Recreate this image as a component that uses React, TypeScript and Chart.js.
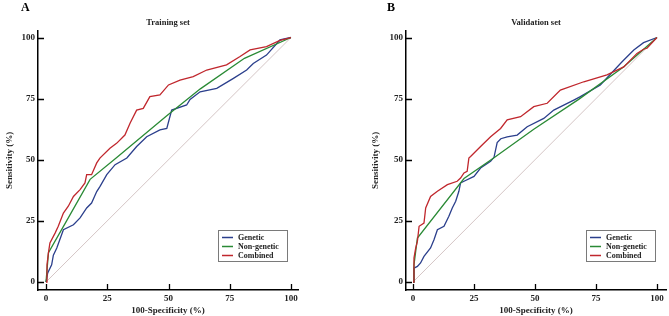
import React, { useEffect, useRef } from "react";
import { Chart, registerables } from "chart.js";

Chart.register(...registerables);

const TICKS = [0, 25, 50, 75, 100];
const SERIES_NAMES = ["Genetic", "Non-genetic", "Combined"];
const SERIES_COLORS = ["#2b3f8c", "#2a8a35", "#c0272d"];
const DIAG_X = [0, 100];
const DIAG_Y = [0, 100];

// Training set
const trainGeneticX = [0, 0.7, 2.3, 3, 4.4, 7.1, 11.2, 13.9, 16.6, 18.6, 20.7, 22, 24.8, 28.2, 33, 37, 41.1, 46.5, 49.3, 51.3, 57.4, 58.8, 62.9, 69.7, 76.5, 81.9, 84.6, 90, 95.5, 100];
const trainGeneticY = [0, 3.7, 7, 11, 13.9, 21.4, 23.4, 26.2, 30.3, 32.3, 37, 39, 43.9, 48, 50.7, 55.4, 59.4, 62.2, 62.8, 70.3, 72.4, 74.7, 77.8, 79.2, 83.3, 86.7, 89.4, 92.8, 99, 100];
const trainNonGenX = [0, 1, 8.4, 18, 29, 49.3, 63, 81, 100];
const trainNonGenY = [0, 12, 25, 42, 51, 68, 79, 91.5, 100];
const trainCombX = [0, 0.4, 1, 1.6, 3.7, 5, 7.1, 9.1, 11.2, 13.9, 15.9, 16.6, 18.6, 20.7, 22, 26.1, 28.8, 32.2, 34.3, 37, 39.7, 42.4, 46.5, 50, 54.7, 60.1, 65.6, 73.7, 79.2, 83.3, 90, 95.5, 100];
const trainCombY = [0, 7, 12, 16, 20, 22.8, 28.2, 31, 35, 37.8, 40.5, 43.9, 43.9, 48.7, 50.7, 54.7, 56.7, 60.1, 64.9, 70.3, 71, 75.8, 76.5, 80.6, 82.6, 84, 86.7, 88.8, 92.2, 94.9, 96.3, 98.8, 100];

// Validation set
const valGeneticX = [0, 0.4, 1.8, 3.1, 4.5, 7.2, 8.6, 10, 12.7, 14.7, 16.1, 17.5, 18.8, 19.5, 20.9, 25, 27.7, 31.8, 33.2, 34.5, 36, 38.6, 42.7, 46.8, 53.6, 57.7, 65.9, 68.6, 76.8, 85.7, 90.5, 94.5, 100];
const valGeneticY = [0, 5.7, 6.4, 7.8, 10.5, 13.9, 17.3, 21.4, 22.8, 26.9, 30.3, 33, 37.1, 40.5, 41.2, 43.2, 46.6, 49.4, 51, 57, 58.6, 59.4, 60.1, 63.5, 66.9, 70.3, 74.4, 75.8, 80.6, 90.1, 94.9, 97.9, 100];
const valNonGenX = [0, 0.4, 1.8, 20.9, 33.2, 49.5, 67.9, 86.4, 100];
const valNonGenY = [0, 7, 18, 42.3, 50.8, 62.5, 74.7, 88, 100];
const valCombX = [0, 0.4, 1.1, 1.8, 2.5, 4.5, 5.2, 7.2, 10, 14.1, 18.1, 19.5, 20.9, 22.2, 22.9, 23.6, 27.7, 31.8, 35.9, 38.6, 44.1, 49.5, 55, 60.4, 70, 79.5, 86.4, 91.8, 94.5, 95.9, 100];
const valCombY = [0, 9.8, 13.9, 16.6, 22.8, 24.1, 30.3, 35, 37.1, 39.8, 41.2, 42.5, 44.6, 45.3, 50.7, 51.3, 55.4, 59.4, 62.8, 66.3, 67.6, 71.7, 73.1, 78.5, 81.9, 84.7, 88, 93.5, 95.2, 95.6, 100];

const FONT = '"Liberation Serif", "Times New Roman", serif';

const pts = (xs: number[], ys: number[]) => xs.map((x, i) => ({ x, y: ys[i] }));

type PanelProps = {
  width: number;
  letter: string;
  title: string;
  xs: number[][];
  ys: number[][];
  padLeft: number;
  yWidth: number;
  padRight: number;
  xMin: number;
  xMax: number;
  letterX: number;
};

function RocPanel(p: PanelProps) {
  const ref = useRef<HTMLCanvasElement | null>(null);
  useEffect(() => {
    if (!ref.current) return;
    const deco = {
      id: "deco",
      afterDraw(chart: any) {
        const { ctx, chartArea, scales } = chart;
        const x = scales.x;
        const y = scales.y;
        ctx.save();
        ctx.strokeStyle = "#000";
        ctx.lineWidth = 1.3;
        ctx.beginPath();
        TICKS.forEach((v) => {
          const px = Math.round(x.getPixelForValue(v)) + 0.5;
          ctx.moveTo(px, chartArea.bottom);
          ctx.lineTo(px, chartArea.bottom - 6);
          const py = Math.round(y.getPixelForValue(v)) + 0.5;
          ctx.moveTo(chartArea.left, py);
          ctx.lineTo(chartArea.left + 6, py);
        });
        ctx.stroke();
        // title
        ctx.fillStyle = "#222";
        ctx.font = `bold 8.5px ${FONT}`;
        ctx.textAlign = "center";
        ctx.textBaseline = "middle";
        ctx.fillText(p.title, (chartArea.left + chartArea.right) / 2, 23);
        // panel letter
        ctx.font = `bold 12px ${FONT}`;
        ctx.textAlign = "left";
        ctx.textBaseline = "alphabetic";
        ctx.fillStyle = "#000";
        ctx.fillText(p.letter, p.letterX, 11);
        // legend
        const bx = chartArea.left + 180;
        const by = 230;
        const bw = 69;
        const bh = 31;
        ctx.fillStyle = "#fff";
        ctx.fillRect(bx, by, bw, bh);
        ctx.strokeStyle = "#7a7a7a";
        ctx.lineWidth = 1;
        ctx.strokeRect(bx + 0.5, by + 0.5, bw, bh);
        ctx.font = `bold 8px ${FONT}`;
        ctx.textBaseline = "middle";
        SERIES_NAMES.forEach((name, i) => {
          const ry = by + 7.5 + i * 9;
          ctx.strokeStyle = SERIES_COLORS[i];
          ctx.lineWidth = 1.5;
          ctx.beginPath();
          ctx.moveTo(bx + 4, ry);
          ctx.lineTo(bx + 15, ry);
          ctx.stroke();
          ctx.fillStyle = "#222";
          ctx.fillText(name, bx + 20, ry);
        });
        ctx.restore();
      },
    };

    const datasets: any[] = [
      {
        label: "diag",
        data: pts(DIAG_X, DIAG_Y),
        borderColor: "#c9b6b6",
        borderWidth: 0.8,
        order: 4,
      },
    ];
    SERIES_NAMES.forEach((name, i) => {
      datasets.push({
        label: name,
        data: pts(p.xs[i], p.ys[i]),
        borderColor: SERIES_COLORS[i],
        borderWidth: 1.3,
        order: 3 - i,
      });
    });

    const chart = new Chart(ref.current, {
      type: "line",
      data: { datasets },
      plugins: [deco],
      options: {
        responsive: false,
        animation: false,
        parsing: false as any,
        elements: { point: { radius: 0 }, line: { tension: 0, fill: false } },
        layout: { padding: { left: p.padLeft, right: p.padRight, top: 31, bottom: 0 } },
        plugins: { legend: { display: false }, tooltip: { enabled: false }, title: { display: false } },
        scales: {
          x: {
            type: "linear",
            min: p.xMin,
            max: p.xMax,
            afterBuildTicks: (axis: any) => {
              axis.ticks = TICKS.map((v) => ({ value: v }));
            },
            afterFit: (axis: any) => {
              axis.height = 26;
            },
            grid: { drawOnChartArea: false, drawTicks: false },
            border: { display: true, color: "#000", width: 1.5 },
            ticks: { padding: 3, color: "#222", font: { family: FONT, size: 9, weight: "bold" }, maxRotation: 0 },
            title: {
              display: true,
              text: "100-Specificity (%)",
              color: "#222",
              font: { family: FONT, size: 9, weight: "bold" },
              padding: { top: 0, bottom: 0 },
            },
          },
          y: {
            type: "linear",
            min: -3.27,
            max: 102.66,
            afterBuildTicks: (axis: any) => {
              axis.ticks = TICKS.map((v) => ({ value: v }));
            },
            afterFit: (axis: any) => {
              axis.width = p.yWidth;
            },
            grid: { drawOnChartArea: false, drawTicks: false },
            border: { display: true, color: "#000", width: 1.5 },
            ticks: { padding: 3, color: "#222", font: { family: FONT, size: 9, weight: "bold" } },
            title: {
              display: true,
              text: "Sensitivity (%)",
              color: "#222",
              font: { family: FONT, size: 9, weight: "bold" },
              padding: { top: 4, bottom: 0 },
            },
          },
        },
      } as any,
    });
    return () => chart.destroy();
  }, []);
  return <canvas ref={ref} width={p.width} height={316} style={{ display: "block", width: p.width, height: 316 }} />;
}

export default function App() {
  return (
    <div style={{ position: "absolute", left: 0, top: 0, width: 669, height: 316, display: "flex", background: "#fff" }}>
      <RocPanel
        width={334}
        letter="A"
        title="Training set"
        xs={[trainGeneticX, trainNonGenX, trainCombX]}
        ys={[trainGeneticY, trainNonGenY, trainCombY]}
        padLeft={0}
        yWidth={38}
        padRight={36}
        xMin={-3.27}
        xMax={102.86}
        letterX={21}
      />
      <RocPanel
        width={335}
        letter="B"
        title="Validation set"
        xs={[valGeneticX, valNonGenX, valCombX]}
        ys={[valGeneticY, valNonGenY, valCombY]}
        padLeft={32}
        yWidth={40}
        padRight={3}
        xMin={-2.87}
        xMax={103.7}
        letterX={53}
      />
    </div>
  );
}
